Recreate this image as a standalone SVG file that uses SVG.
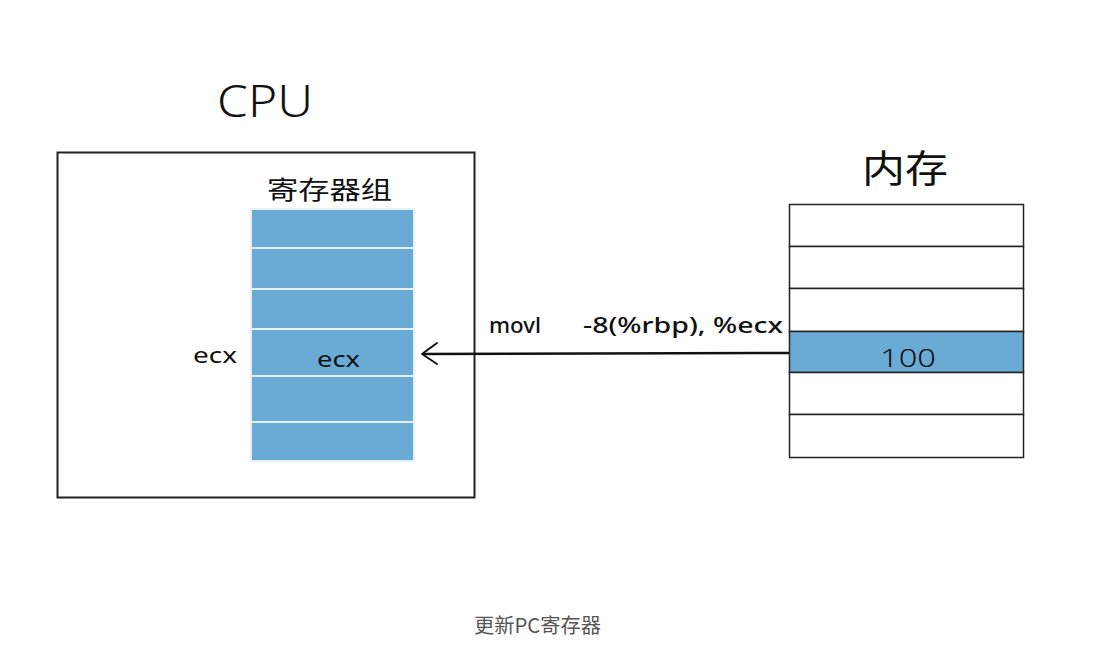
<svg xmlns="http://www.w3.org/2000/svg" width="1115" height="656" viewBox="0 0 1115 656">
<style>
.lab{font-family:"Noto Sans","Noto Sans CJK SC",sans-serif;fill:#111}
.reg{fill:#6aabd6;stroke:#e6f0f8;stroke-width:2}
.mem{fill:#fff;stroke:#222;stroke-width:1.5}
.memh{fill:#6aabd6;stroke:#222;stroke-width:1.5}
</style>
<rect width="1115" height="656" fill="#fff"/>
<g id="cpu">
<rect x="57.5" y="152.5" width="417" height="345" fill="none" stroke="#222" stroke-width="2"/>
<text x="217" y="117" class="lab" font-size="44" font-weight="300" textLength="96" lengthAdjust="spacingAndGlyphs">CPU</text>
</g>
<g id="registers">
<text x="267" y="199" class="lab" font-size="25" textLength="125" lengthAdjust="spacingAndGlyphs">寄存器组</text>
<rect x="251" y="209" width="163" height="39" class="reg"/>
<rect x="251" y="248" width="163" height="41" class="reg"/>
<rect x="251" y="289" width="163" height="40" class="reg"/>
<rect x="251" y="329" width="163" height="47" class="reg"/>
<rect x="251" y="376" width="163" height="46" class="reg"/>
<rect x="251" y="422" width="163" height="39" class="reg"/>
<text x="317" y="367" class="lab" font-size="22" textLength="43" lengthAdjust="spacingAndGlyphs">ecx</text>
<text x="193" y="363" class="lab" font-size="22" textLength="44" lengthAdjust="spacingAndGlyphs">ecx</text>
</g>
<g id="memory">
<text x="862" y="182" class="lab" font-size="38" textLength="86" lengthAdjust="spacingAndGlyphs">内存</text>
<rect x="789.5" y="204.5" width="234" height="42" class="mem"/>
<rect x="789.5" y="246.5" width="234" height="42" class="mem"/>
<rect x="789.5" y="288.5" width="234" height="43" class="mem"/>
<rect x="789.5" y="331.5" width="234" height="41" class="memh"/>
<rect x="789.5" y="372.5" width="234" height="42" class="mem"/>
<rect x="789.5" y="414.5" width="234" height="43" class="mem"/>
<text x="880" y="367" class="lab" font-size="26" font-weight="300" textLength="56" lengthAdjust="spacingAndGlyphs">100</text>
</g>
<g id="connectors">
<path d="M789 353 L423 354" fill="none" stroke="#111" stroke-width="2.5"/>
<path d="M437 343 L422 354 L437 364" fill="none" stroke="#111" stroke-width="2" stroke-linecap="round" stroke-linejoin="round"/>
<text x="489" y="333" class="lab" font-size="22" font-weight="500" textLength="52" lengthAdjust="spacingAndGlyphs">movl</text>
<text x="583" y="333" class="lab" font-size="22" font-weight="500" textLength="200" lengthAdjust="spacingAndGlyphs">-8(%rbp), %ecx</text>
</g>
<text x="474" y="633" font-family="'Noto Sans CJK SC','Noto Sans',sans-serif" font-size="20" fill="#555" textLength="127" lengthAdjust="spacingAndGlyphs">更新PC寄存器</text>
</svg>
